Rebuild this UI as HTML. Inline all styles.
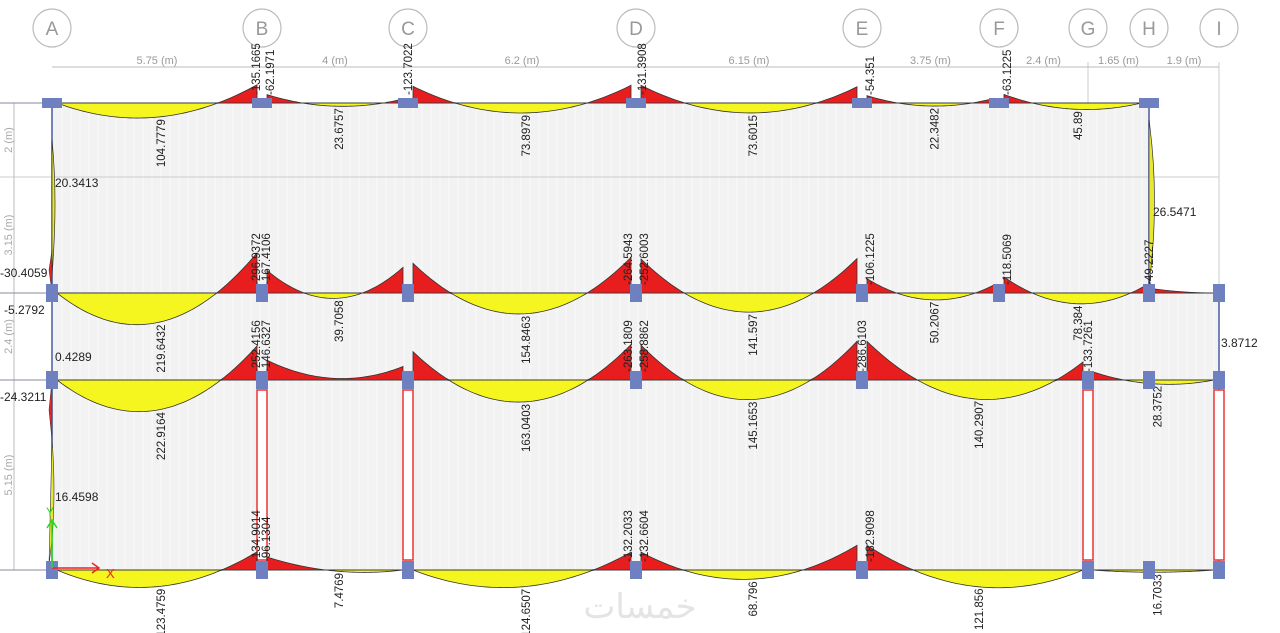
<!DOCTYPE html>
<html><head><meta charset="utf-8"><style>
body{margin:0;background:#fff;}
svg{display:block;font-family:"Liberation Sans",sans-serif;}
</style></head><body>
<svg id="c" width="1280" height="633" xmlns="http://www.w3.org/2000/svg"></svg>
<script>
const gridNames=["A","B","C","D","E","F","G","H","I"];
const gridX=[52,262,408,636,862,999,1088,1149,1219];
const spanLabels=["5.75 (m)","4 (m)","6.2 (m)","6.15 (m)","3.75 (m)","2.4 (m)","1.65 (m)","1.9 (m)"];
const storyY=[103,293,380,570];
const storyDims=["2 (m)","3.15 (m)","2.4 (m)","5.15 (m)"];
// spans: [row, startGrid, endGrid, leftNeg, midPos, rightNeg]
const spans=[
[0,0,1,0,104.7779,135.1665],[0,1,2,62.1971,23.6757,30],[0,2,3,123.7022,73.8979,131.3908],
[0,3,4,131.3908,73.6015,120],[0,4,5,54.351,22.3482,35],[0,5,7,63.1225,45.89,5],
[1,0,1,0,219.6432,296.9372],[1,1,2,167.4106,39.7058,190],[1,2,3,220,154.8463,264.5943],
[1,3,4,252.6003,141.597,255],[1,4,5,106.1225,50.2067,60],[1,5,7,118.5069,78.384,49.2227],[1,7,8,30,-8,0],
[2,0,1,0,222.9164,252.4156],[2,1,2,146.6327,-12,100],[2,2,3,210,163.0403,263.1809],
[2,3,4,258.8862,145.1653,286.6103],[2,4,6,286.6103,140.2907,133.7261],[2,6,8,60,28.3752,0],
[3,0,1,0,123.4759,134.9014],[3,1,2,96.1304,7.4769,0],[3,2,3,0,124.6507,132.2033],
[3,3,4,132.6604,68.796,182.9098],[3,4,6,182.9098,121.856,0],[3,6,8,0,16.7033,0]];
const endLabels=[[0,1,"-135.1665",-6],[0,1,"-62.1971",8],[0,2,"-123.7022",0],[0,3,"-131.3908",6],[0,4,"-54.351",8],[0,5,"-63.1225",8],
[1,1,"-296.9372",-6],[1,1,"-167.4106",4],[1,3,"-264.5943",-8],[1,3,"-252.6003",8],[1,4,"-106.1225",8],[1,5,"-118.5069",8],[1,7,"-49.2227",0],
[2,1,"-252.4156",-6],[2,1,"-146.6327",4],[2,3,"-263.1809",-8],[2,3,"-258.8862",8],[2,4,"-286.6103",0],[2,6,"-133.7261",0],
[3,1,"-134.9014",-6],[3,1,"-96.1304",4],[3,3,"-132.2033",-8],[3,3,"-132.6604",8],[3,4,"-182.9098",8]];
const colLabels=[[55,187,"20.3413"],[0,277,"-30.4059"],[4,314,"-5.2792"],[55,361,"0.4289"],[0,401,"-24.3211"],[55,501,"16.4598"],[1153,216,"26.5471"],[1221,347,"3.8712"]];
const S=0.135;
const svg=document.getElementById('c');
const NS="http://www.w3.org/2000/svg";
function mk(t,a,p){const e=document.createElementNS(NS,t);for(const k in a)e.setAttribute(k,a[k]);(p||svg).appendChild(e);return e;}
let bg=mk('rect',{x:52,y:103,width:1097,height:190,fill:'#f2f2f2'});

let bg2=mk('rect',{x:52,y:293,width:1167,height:277,fill:'#f2f2f2'});

for(let x=62;x<1219;x+=9){mk('line',{x1:x,y1:x<1149?103:293,x2:x,y2:570,stroke:'#f9f9f9','stroke-width':1});}
mk('line',{x1:0,y1:177,x2:1219,y2:177,stroke:'#ccc'});
mk('line',{x1:1219,y1:62,x2:1219,y2:293,stroke:'#ccc'});
mk('line',{x1:1088,y1:62,x2:1088,y2:103,stroke:'#ccc'});
gridNames.forEach((n,i)=>{
 const g=mk('g',{});
 mk('circle',{cx:gridX[i],cy:28,r:19,fill:'#fff',stroke:'#bbb','stroke-width':1.2},g);
 const t=mk('text',{x:gridX[i],y:35,'text-anchor':'middle','font-size':19,fill:'#999'},g);t.textContent=n;
});
mk('line',{x1:52,y1:67,x2:1219,y2:67,stroke:'#bbb'});
spanLabels.forEach((s,i)=>{const t=mk('text',{x:(gridX[i]+gridX[i+1])/2,y:64,'text-anchor':'middle','font-size':11,fill:'#999'});t.textContent=s;
 });
mk('line',{x1:14,y1:103,x2:14,y2:570,stroke:'#bbb'});
const dimY=[103,177,293,380,570];
storyDims.forEach((s,i)=>{const cy=(dimY[i]+dimY[i+1])/2;const t=mk('text',{x:12,y:cy,'text-anchor':'middle','font-size':11,fill:'#aaa',transform:`rotate(-90 12 ${cy})`});t.textContent=s;
 });
storyY.forEach((y,r)=>{mk('line',{x1:0,y1:y,x2:r==0?1149:1219,y2:y,stroke:'#8a8a9a','stroke-width':1});});
mk('line',{x1:52,y1:103,x2:52,y2:570,stroke:'#4a5aa8','stroke-width':1.5});
mk('line',{x1:1149,y1:103,x2:1149,y2:293,stroke:'#4a5aa8','stroke-width':1.5});
mk('line',{x1:1219,y1:293,x2:1219,y2:570,stroke:'#4a5aa8','stroke-width':1.5});
mk('path',{d:'M52,140 Q58,200 52,275 Z',fill:'#e8e830',stroke:'#333','stroke-width':0.7});
mk('path',{d:'M52,293 L49,270 L52,250 Z',fill:'#e22',stroke:'#333','stroke-width':0.5});
mk('path',{d:'M52,380 L49,410 L52,440 Z',fill:'#e22',stroke:'#333','stroke-width':0.5});
mk('path',{d:'M52,440 Q56,490 52,540 L49,565 Z',fill:'#e8e830',stroke:'#333','stroke-width':0.6});
mk('path',{d:'M1149,120 Q1160,200 1149,285 Z',fill:'#e8e830',stroke:'#333','stroke-width':0.7});
[[262],[408],[1088],[1219]].forEach(([x])=>{const r=mk('rect',{x:x-5,y:390,width:10,height:170,fill:'#fff',stroke:'#e33','stroke-width':1.5});
 });
function M(L,m,R,t){return -L*(1-t)-R*t+(m+(L+R)/2)*4*t*(1-t);}
spans.forEach(sp=>{
 const [r,a,b,L,m,R]=sp;const y0=storyY[r];const x0=gridX[a]+5,x1=gridX[b]-5;const N=60;
 let pos=[],neg=[];
 for(let i=0;i<=N;i++){const t=i/N;const x=x0+(x1-x0)*t;const v=M(L,m,R,t);
  pos.push(`${x},${y0+Math.max(v,0)*S}`);neg.push(`${x},${y0+Math.min(v,0)*S}`);}
 const g=mk('g',{});
 mk('polygon',{points:`${x0},${y0} ${pos.join(' ')} ${x1},${y0}`,fill:'#f5f520',stroke:'#333','stroke-width':0.8},g);
 mk('polygon',{points:`${x0},${y0} ${neg.join(' ')} ${x1},${y0}`,fill:'#e81e1e',stroke:'#333','stroke-width':0.8},g);
 if(m>0){const xm=(x0+x1)/2+8;const yl=y0+m*S+2;
  const t=mk('text',{x:xm,y:yl,'text-anchor':'end','font-size':11.5,fill:'#222',transform:`rotate(-90 ${xm} ${yl})`},g);t.textContent=m.toFixed(4).replace(/0+$/,'').replace(/\.$/,'');
  }
});
endLabels.forEach(([r,gi,s,dx])=>{const x=gridX[gi]+dx+4,y=storyY[r]-8;
 const t=mk('text',{x:x,y:y,'text-anchor':'start','font-size':11.5,fill:'#222',transform:`rotate(-90 ${x} ${y})`});t.textContent=s;
 });
colLabels.forEach(([x,y,s])=>{const t=mk('text',{x:x,y:y,'font-size':12,fill:'#222'});t.textContent=s;
 });
storyY.forEach((y,r)=>{gridX.forEach((x,i)=>{
 if(r==0&&i==8)return; if(r==0&&i==6)return;
 if(r>=1&&i==6&&r==1)return; if(r>=2&&i==5)return;
 const n=mk('rect',{x:x-(r==0||i==0?10:6),y:y-5,width:(r==0||i==0?20:12),height:10,fill:'#6f80c0'});
 if(r>0){n.setAttribute('height',18);n.setAttribute('y',y-9);n.setAttribute('width',12);n.setAttribute('x',x-6);}
 
});});
mk('line',{x1:52,y1:568,x2:98,y2:568,stroke:'#e22','stroke-width':1.5});
mk('path',{d:'M92,563 L99,568 L92,573',fill:'none',stroke:'#e22','stroke-width':1.5});
let tx=mk('text',{x:106,y:578,'font-size':13,fill:'#e22'});tx.textContent='X';

mk('line',{x1:52,y1:568,x2:52,y2:520,stroke:'#2d2','stroke-width':1.5});
mk('path',{d:'M47,528 L52,520 L57,528',fill:'none',stroke:'#2d2','stroke-width':1.5});
let ty=mk('text',{x:46,y:516,'font-size':12,fill:'#2d2'});ty.textContent='Y';

let wm=mk('text',{x:640,y:618,'text-anchor':'middle','font-size':34,fill:'#e4e4e4','font-family':'"DejaVu Sans",sans-serif'});wm.textContent='خمسات';

</script>
</body></html>
